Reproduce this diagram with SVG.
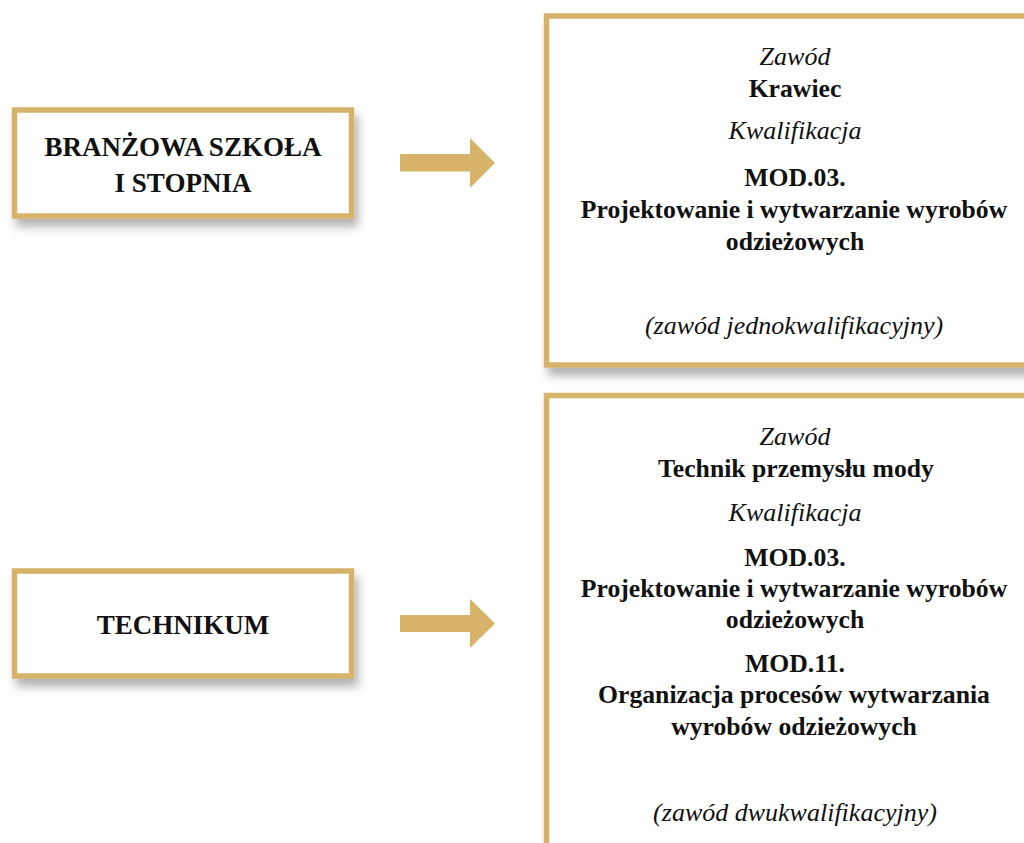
<svg xmlns="http://www.w3.org/2000/svg" width="1024" height="843" viewBox="0 0 1024 843">
<style>
.box{fill:#ffffff;stroke:#d7b36a;stroke-width:5.5;filter:url(#sh)}
.arr{fill:#d7b36a}
.t{font-family:"Liberation Serif","Times New Roman",serif;fill:#111111;text-anchor:middle}
.b{font-weight:bold;font-size:25.7px}
.i{font-style:italic;font-size:26px}
.L{font-weight:bold;font-size:27px}
</style>
<defs>
<filter id="sh" x="-10%" y="-10%" width="130%" height="140%">
<feDropShadow dx="4" dy="8" stdDeviation="5" flood-color="#000000" flood-opacity="0.3"/>
</filter>
</defs>
<rect width="1024" height="843" fill="#ffffff"/>
<g id="node-branzowa">
<rect class="box" x="14.5" y="110" width="337" height="106"/>
<text class="t L" x="183" y="156">BRANŻOWA SZKOŁA</text>
<text class="t L" x="183" y="192">I STOPNIA</text>
</g>
<g id="node-technikum">
<rect class="box" x="14.5" y="571" width="337" height="105"/>
<text class="t L" x="183" y="634">TECHNIKUM</text>
</g>
<g id="node-krawiec">
<rect class="box" x="546.5" y="16" width="520" height="349"/>
<text class="t i" x="795" y="65">Zawód</text>
<text class="t b" x="795" y="97">Krawiec</text>
<text class="t i" x="795" y="139">Kwalifikacja</text>
<text class="t b" x="795" y="186">MOD.03.</text>
<text class="t b" x="794" y="218">Projektowanie i wytwarzanie wyrobów</text>
<text class="t b" x="795" y="250">odzieżowych</text>
<text class="t i" x="794" y="334">(zawód jednokwalifikacyjny)</text>
</g>
<g id="node-technik">
<rect class="box" x="546.5" y="395.5" width="520" height="500"/>
<text class="t i" x="795" y="445">Zawód</text>
<text class="t b" x="796" y="477">Technik przemysłu mody</text>
<text class="t i" x="795" y="521">Kwalifikacja</text>
<text class="t b" x="795" y="566">MOD.03.</text>
<text class="t b" x="794" y="597">Projektowanie i wytwarzanie wyrobów</text>
<text class="t b" x="795" y="628">odzieżowych</text>
<text class="t b" x="795" y="672">MOD.11.</text>
<text class="t b" x="794" y="703">Organizacja procesów wytwarzania</text>
<text class="t b" x="794" y="735">wyrobów odzieżowych</text>
<text class="t i" x="795" y="821">(zawód dwukwalifikacyjny)</text>
</g>
<g id="connectors">
<polygon class="arr" points="400,154 470,154 470,138 495,163 470,188 470,171.5 400,171.5"/>
<polygon class="arr" points="400,615 470,615 470,599 495,623.5 470,648 470,632 400,632"/>
</g>
</svg>
